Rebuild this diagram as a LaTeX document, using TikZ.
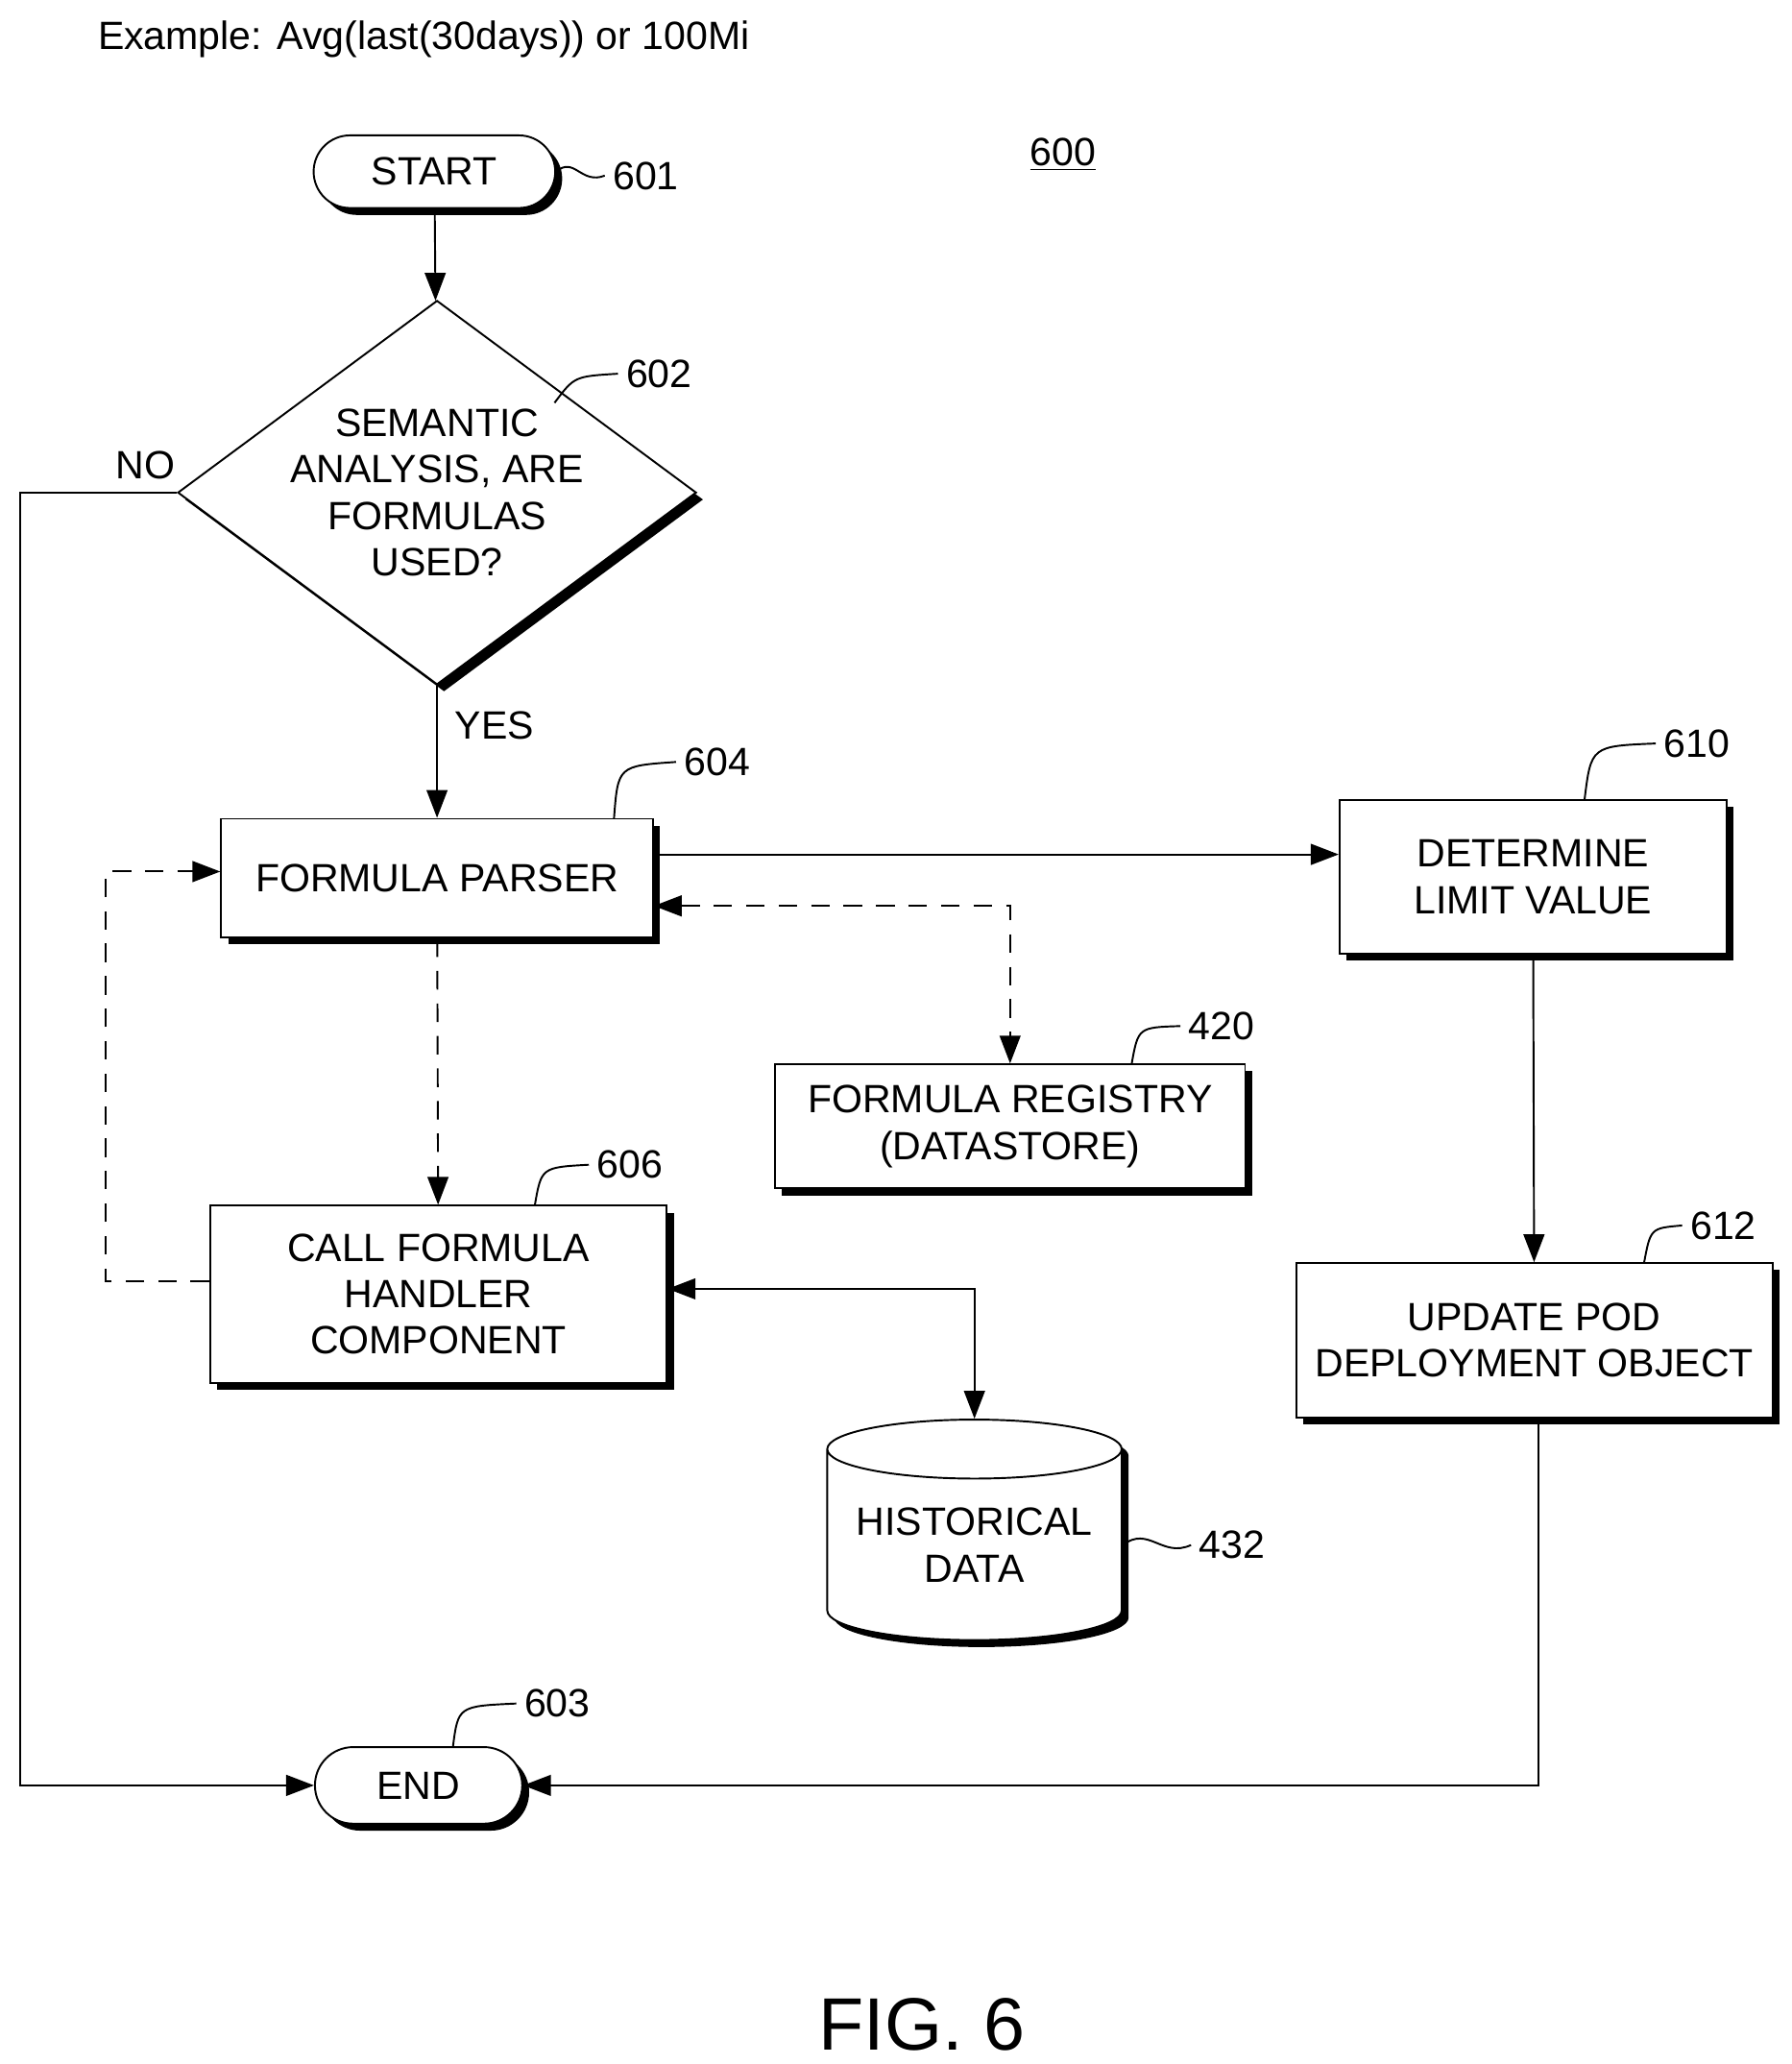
\documentclass[tikz,border=0pt]{standalone}
\usepackage{fontspec}
\setmainfont{Liberation Sans}
\usetikzlibrary{arrows.meta,shapes.geometric,shapes.misc,shadows,positioning}

\tikzset{
  txt/.style = {font=\fontsize{17}{20}\selectfont, align=center},
  shade/.style = {drop shadow={shadow xshift=3pt, shadow yshift=-3pt, opacity=1, fill=black}},
  box/.style = {txt, draw, thick, fill=white, shade, inner sep=0pt},
  term/.style = {box, rounded rectangle},
  ref/.style = {txt, anchor=west},
  flow/.style = {thick, -{Triangle[length=12pt, width=9pt]}},
  dashflow/.style = {flow, dash pattern=on 8pt off 6pt},
  both/.style = {{Triangle[length=12pt, width=9pt]}-{Triangle[length=12pt, width=9pt]}},
}

\begin{document}
\begin{tikzpicture}[x=0.02cm, y=-0.02cm]
  \useasboundingbox (0,0) rectangle (1357,1563);

  \node[txt, anchor=west] (ex) at (68,30) {Example: Avg(last(30days)) or 100Mi};
  \node[txt] (fig) at (805,117) {\underline{600}};

  % terminals
  \node[term, minimum width=3.66cm, minimum height=1.1cm] (start) at (329,130) {START};
  \node[term, minimum width=3.14cm, minimum height=1.16cm] (end) at (317,1352) {END};

  % decision
  \node[box, diamond, minimum width=7.2cm, minimum height=5.34cm, aspect=1.35] (dec) at (331,373)
    {SEMANTIC\\ANALYSIS, ARE\\FORMULAS\\USED?};

  % process boxes
  \node[box, minimum width=6.54cm, minimum height=1.8cm] (parser) at (331,665) {FORMULA PARSER};
  \node[box, minimum width=5.86cm, minimum height=2.32cm] (limit) at (1161,664) {DETERMINE\\LIMIT VALUE};
  \node[box, minimum width=7.22cm, minimum height=2.34cm] (pod) at (1162,1015) {UPDATE POD\\DEPLOYMENT OBJECT};
  \node[box, minimum width=7.12cm, minimum height=1.88cm] (reg) at (765,853) {FORMULA REGISTRY\\(DATASTORE)};
  \node[box, minimum width=6.92cm, minimum height=2.68cm] (call) at (332,980) {CALL FORMULA\\HANDLER\\COMPONENT};
  \node[box, cylinder, shape border rotate=90, aspect=0.25, minimum width=4.46cm,
        minimum height=3.34cm] (hist) at (738,1170) {HISTORICAL\\DATA};

  % reference numerals
  \node[ref] (n601) at (458,133) {601};
  \node[ref] (n602) at (468,283) {602};
  \node[ref] (n604) at (512,577) {604};
  \node[ref] (n610) at (1254,563) {610};
  \node[ref] (n612) at (1274,928) {612};
  \node[ref] (n420) at (894,777) {420};
  \node[ref] (n606) at (446,882) {606};
  \node[ref] (n432) at (902,1170) {432};
  \node[ref] (n603) at (391,1290) {603};
  \draw[thick] (start.east) .. controls (435,118) and (440,140) .. (n601.west);
  \draw[thick] (420,305) .. controls (435,285) .. (n602.west);
  \draw[thick] (465,620) .. controls (468,580) .. (n604.west);
  \draw[thick] (1200,606) .. controls (1205,565) .. (n610.west);
  \draw[thick] (1245,957) .. controls (1250,930) .. (n612.west);
  \draw[thick] (857,806) .. controls (862,778) .. (n420.west);
  \draw[thick] (405,913) .. controls (410,884) .. (n606.west);
  \draw[thick] (hist.east) .. controls (870,1155) and (880,1180) .. (n432.west);
  \draw[thick] (343,1323) .. controls (347,1292) .. (n603.west);

  % flow
  \draw[flow] (start) -- (dec);
  \draw[flow] (dec) -- node[txt, right=4pt, pos=0.3] (yes) {YES} (parser);
  \draw[flow] (dec.west) -- node[txt, above=2pt, pos=0.2] (no) {NO} (15,373) |- (end.west);
  \draw[flow] (parser.east |- 0,647) -- (limit.west |- 0,647);
  \draw[flow] (limit) -- (pod);
  \draw[flow] (pod.south -| 1165,0) |- (end.east);
  \draw[dashflow, both] (parser.east |- 0,686) -| (reg.north);
  \draw[dashflow] (parser) -- (call);
  \draw[dashflow] (call.west |- 0,970) -- (80,970) |- (parser.west |- 0,660);
  \draw[flow, both] (call.east |- 0,976) -| (hist.north);

  \node[txt, font=\fontsize{32}{36}\selectfont] (title) at (698,1533) {FIG. 6};
\end{tikzpicture}
\end{document}
